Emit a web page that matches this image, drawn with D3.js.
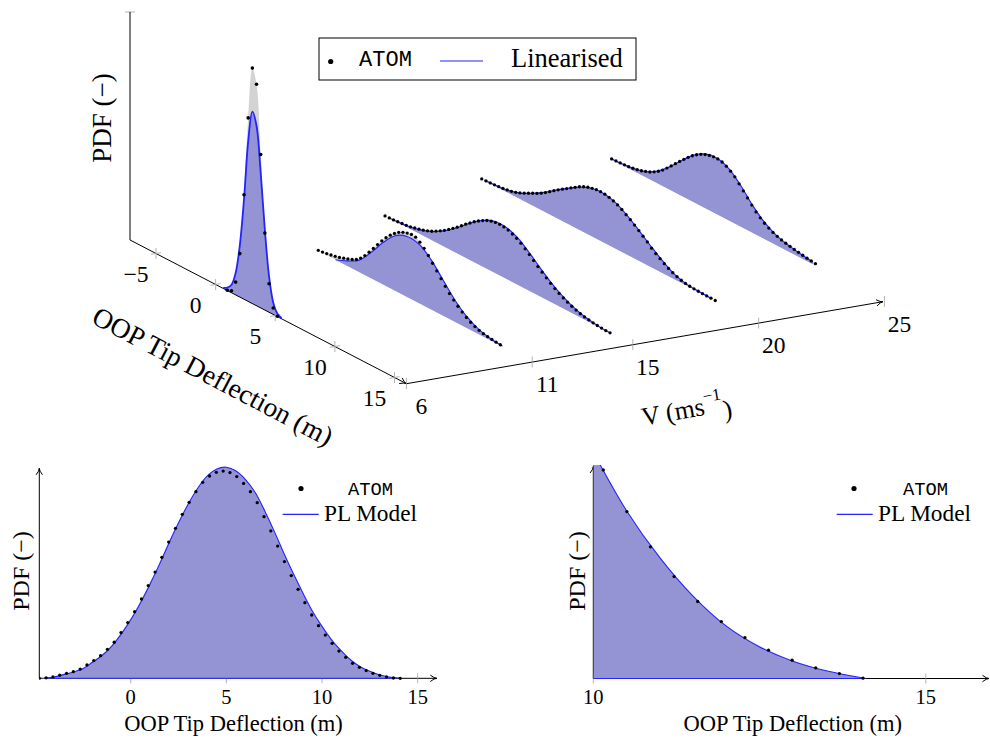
<!DOCTYPE html>
<html>
<head>
<meta charset="utf-8">
<script src="https://cdn.jsdelivr.net/npm/d3@7"></script>
<style>
  body { margin: 0; background: #fff; }
  text { font-family: "Liberation Serif", "DejaVu Serif", serif; fill: #000; }
  .mono { font-family: "Liberation Mono", "DejaVu Sans Mono", monospace; }
</style>
</head>
<body>
<script>
// ---- data ----------------------------------------------------------------
var speeds = [6, 11, 15, 20, 25];
var speedTicks = [6, 11, 15, 20, 25];
var defTicks3d = [-5, 0, 5, 10, 15];
var defTicksLeft = [0, 5, 10, 15];
var defTicksRight = [10, 15];

// ATOM pdf samples, one list per wind speed, on an even deflection grid
var atomStart = [0.98, -1.94, -4.78, -7.22, -6.87];
var atomStep = [0.35, 0.355, 0.356, 0.356, 0.356];
var atomV6 = [0.0008, 0.0053, 0.0337, 0.1145, 0.2750, 0.4829, 0.6197, 0.5829, 0.4039, 0.2026, 0.0750, 0.0171, 0.0008];
var atomV11 = [0.0013, 0.0026, 0.0042, 0.0063, 0.0087, 0.0116, 0.0153, 0.0192, 0.0237, 0.0295,
    0.0389, 0.0513, 0.0658, 0.0816, 0.0974, 0.1132, 0.1271, 0.1395, 0.1500, 0.1587,
    0.1645, 0.1684, 0.1705, 0.1692, 0.1618, 0.1513, 0.1382, 0.1237, 0.1092, 0.0947,
    0.0803, 0.0671, 0.0558, 0.0453, 0.0358, 0.0274, 0.0205, 0.0150, 0.0108, 0.0079,
    0.0058, 0.0042, 0.0029, 0.0018];
var atomV15 = [0, 0.0003, 0.0009, 0.0020, 0.0032, 0.0043, 0.0060, 0.0087, 0.0115, 0.0147,
    0.0188, 0.0234, 0.0297, 0.0362, 0.0433, 0.0515, 0.0602, 0.0690, 0.0786, 0.0885,
    0.0974, 0.1065, 0.1143, 0.1212, 0.1273, 0.1314, 0.1338, 0.1346, 0.1336, 0.1310,
    0.1266, 0.1212, 0.1141, 0.1050, 0.0957, 0.0859, 0.0758, 0.0667, 0.0578, 0.0491,
    0.0411, 0.0342, 0.0281, 0.0227, 0.0177, 0.0136, 0.0097, 0.0071, 0.0050, 0.0032,
    0.0019, 0.0009, 0.0002, 0];
var atomV20 = [0.0005, 0.0011, 0.0016, 0.0024, 0.0032, 0.0045, 0.0063, 0.0084, 0.0116, 0.0158,
    0.0211, 0.0266, 0.0324, 0.0379, 0.0442, 0.0516, 0.0597, 0.0682, 0.0763, 0.0839,
    0.0913, 0.0987, 0.1061, 0.1134, 0.1192, 0.1237, 0.1268, 0.1289, 0.1295, 0.1287,
    0.1263, 0.1226, 0.1179, 0.1116, 0.1039, 0.0966, 0.0882, 0.0795, 0.0705, 0.0613,
    0.0505, 0.0421, 0.0345, 0.0271, 0.0205, 0.0150, 0.0103, 0.0068, 0.0042, 0.0026,
    0.0016, 0.0011, 0.0005, 0.0003, 0.0003, 0];
var atomV25 = [0.0018, 0.0024, 0.0029, 0.0037, 0.0047, 0.0063, 0.0084, 0.0113, 0.0153, 0.0197,
    0.0258, 0.0332, 0.0421, 0.0532, 0.0647, 0.0763, 0.0882, 0.0995, 0.1105, 0.1205,
    0.1289, 0.1358, 0.1411, 0.1447, 0.1468, 0.1471, 0.1447, 0.1395, 0.1321, 0.1232,
    0.1105, 0.0976, 0.0850, 0.0721, 0.0597, 0.0500, 0.0416, 0.0347, 0.0292, 0.0247,
    0.0211, 0.0182, 0.0158, 0.0134, 0.0116, 0.0097, 0.0079, 0.0063, 0.0050];
var atomPdf = [atomV6, atomV11, atomV15, atomV20, atomV25];

// Linearised pdf, coarser grid
var linStart = [0.63, -0.5, -4.5, -7, -7];
var linStep = [0.35, 1, 0.5, 1, 1];
var linV6 = [0.0013, 0.0079, 0.0211, 0.0579, 0.1368, 0.2632, 0.4211, 0.5053, 0.4737, 0.3553, 0.2105, 0.0947, 0.0316, 0.0079, 0.0013];
var linV11 = [0, 0.0132, 0.0316, 0.0684, 0.1105, 0.1447, 0.1592, 0.1553, 0.1316, 0.0947, 0.0579, 0.0303, 0.0132, 0.0047, 0.0013];
var linV15 = [0.0002, 0.0008, 0.0024, 0.0041, 0.0062, 0.0104, 0.0148, 0.0208, 0.0287, 0.0380,
    0.0488, 0.0610, 0.0740, 0.0879, 0.1010, 0.1131, 0.1234, 0.1315, 0.1360, 0.1371,
    0.1346, 0.1291, 0.1208, 0.1089, 0.0956, 0.0814, 0.0680, 0.0554, 0.0436, 0.0337,
    0.0250, 0.0179, 0.0119, 0.0075, 0.0046, 0.0023, 0.0008, 0.0001];
var linV20 = [0.0008, 0.0026, 0.0066, 0.0158, 0.0316, 0.0500, 0.0724, 0.0934, 0.1132, 0.1263,
    0.1289, 0.1211, 0.1026, 0.0789, 0.0539, 0.0311, 0.0126, 0.0039, 0.0011, 0];
var linV25 = [0.0013, 0.0032, 0.0068, 0.0153, 0.0329, 0.0605, 0.0934, 0.1237, 0.1434, 0.1474,
    0.1355, 0.1066, 0.0705, 0.0426, 0.0250, 0.0163, 0.0100, 0.0058];
var linPdf = [linV6, linV11, linV15, linV20, linV25];

// tail case (bottom right)
var tailAtomStart = 10.15, tailAtomStep = 0.355;
var tailAtom = [0.1355, 0.1084, 0.0855, 0.0662, 0.0500, 0.0370, 0.0266, 0.0184, 0.0119, 0.0069, 0.0032, 0.0002];
var tailLinDef = [10, 10.5, 11, 11.5, 12, 12.5, 13, 13.5, 14.1];
var tailLinPdf = [0.147, 0.109, 0.0785, 0.0535, 0.034, 0.0205, 0.0112, 0.005, 0];

// ---- styles -------------------------------------------------------------
var grey_fill = "#d3d3d3",
    lin_fill = "#9494d4",
    lin_line = "#2323ff",
    tick_col = "#a0a0a0";

var svg = d3.select("body").append("svg")
    .attr("width", 990)
    .attr("height", 740)
    .style("background", "#fff");

function arrowHead(g, x1, y1, x2, y2) {
    var a = Math.atan2(y2 - y1, x2 - x1),
        c = Math.cos(a), s = Math.sin(a);
    var b1 = [x2 - 6.5 * c - 3.2 * s, y2 - 6.5 * s + 3.2 * c],
        b2 = [x2 - 6.5 * c + 3.2 * s, y2 - 6.5 * s - 3.2 * c],
        m = [x2 - 2.5 * c, y2 - 2.5 * s];
    g.append("path")
        .attr("d", "M" + b1 + "Q" + m + " " + x2 + "," + y2 + "Q" + m + " " + b2)
        .attr("fill", "none").attr("stroke", "#000").attr("stroke-width", 1);
}
function axisLine(g, x1, y1, x2, y2, arrow) {
    g.append("line").attr("x1", x1).attr("y1", y1).attr("x2", x2).attr("y2", y2)
        .attr("stroke", "#000").attr("stroke-width", 1);
    if (arrow) arrowHead(g, x1, y1, x2, y2);
}

// ---- 3D waterfall -------------------------------------------------------
var defX = d3.scaleLinear().domain([-5, 15]).range([156.0, 394.5]),
    defY = d3.scaleLinear().domain([-5, 15]).range([253.5, 377.5]),
    spdX = d3.scaleLinear().domain([6, 25]).range([0, 478]),
    spdY = d3.scaleLinear().domain([6, 25]).range([0, -82.3]),
    pdfZ = d3.scaleLinear().domain([0, 0.6]).range([0, 228]);
var defMin = -7.18, defMax = 16;

function proj(d, v, z) {
    return [defX(d) + spdX(v), defY(d) + spdY(v) - pdfZ(z)];
}
function seriesPts(start, step, pdf, v) {
    return pdf.map(function(p, i) { return proj(start + i * step, v, p); });
}
var curve3 = d3.line().curve(d3.curveCatmullRom.alpha(0.5));
function fillPath(start, step, pdf, v) {
    var s = proj(start, v, 0),
        e = proj(start + (pdf.length - 1) * step, v, 0);
    return curve3(seriesPts(start, step, pdf, v)) + "L" + e + "L" + s + "Z";
}

var g3 = svg.append("g").attr("class", "waterfall");
var order = [4, 3, 2, 1, 0];

order.forEach(function(k) {
    g3.append("path")
        .attr("d", fillPath(atomStart[k], atomStep[k], atomPdf[k], speeds[k]))
        .attr("fill", grey_fill);
    g3.append("path")
        .attr("d", fillPath(linStart[k], linStep[k], linPdf[k], speeds[k]))
        .attr("fill", lin_fill);
});

// axes
var corner = proj(defMin, 6, 0),
    defEnd = proj(defMax, 6, 0),
    spdEnd = proj(defMax, 25, 0),
    zTop = proj(defMin, 6, 0.6);
g3.append("line").attr("x1", zTop[0] - 5).attr("x2", zTop[0] + 5)
    .attr("y1", zTop[1]).attr("y2", zTop[1])
    .attr("stroke", tick_col).attr("stroke-width", 0.8);
axisLine(g3, corner[0], corner[1], zTop[0], zTop[1], false);
axisLine(g3, corner[0], corner[1], defEnd[0], defEnd[1], true);
axisLine(g3, defEnd[0], defEnd[1], spdEnd[0] - 1.5, spdEnd[1] + 0.3, true);

defTicks3d.forEach(function(t) {
    var p = proj(t, 6, 0),
        q1 = proj(t, 5.8, 0), q2 = proj(t, 6.2, 0);
    g3.append("line").attr("x1", p[0]).attr("x2", p[0]).attr("y1", p[1] - 5.5).attr("y2", p[1] + 5.5)
        .attr("stroke", tick_col).attr("stroke-width", 0.8);
    g3.append("line").attr("x1", q1[0]).attr("x2", q2[0]).attr("y1", q1[1]).attr("y2", q2[1])
        .attr("stroke", tick_col).attr("stroke-width", 0.8);
    g3.append("text")
        .attr("x", p[0] - 20).attr("y", p[1] + 20).attr("dy", "0.35em")
        .attr("font-size", "23.5px").style("text-anchor", "middle")
        .text(t < 0 ? "\u2212" + Math.abs(t) : t);
});
speedTicks.forEach(function(t) {
    var p = proj(defMax, t, 0);
    g3.append("line").attr("x1", p[0]).attr("x2", p[0]).attr("y1", p[1] - 5.5).attr("y2", p[1] + 5.5)
        .attr("stroke", tick_col).attr("stroke-width", 0.8);
    g3.append("text")
        .attr("x", p[0] + 15).attr("y", p[1] + 22).attr("dy", "0.35em")
        .attr("font-size", "23.5px").style("text-anchor", "middle")
        .text(t);
});

order.forEach(function(k) {
    g3.append("path")
        .attr("d", curve3(seriesPts(linStart[k], linStep[k], linPdf[k], speeds[k])))
        .attr("fill", "none").attr("stroke", lin_line).attr("stroke-width", k === 0 ? 1.8 : 1.2);
    g3.selectAll(".dot" + k)
        .data(seriesPts(atomStart[k], atomStep[k], atomPdf[k], speeds[k]))
        .enter().append("circle")
        .attr("cx", function(d) { return d[0]; })
        .attr("cy", function(d) { return d[1]; })
        .attr("r", k === 0 ? 1.8 : 1.65)
        .attr("fill", "#000");
});

// axis titles 3D
g3.append("text")
    .attr("transform", "translate(102,118) rotate(-90)")
    .attr("dy", "0.35em").attr("font-size", "27px").style("text-anchor", "middle")
    .text("PDF (\u2212)");
g3.append("text")
    .attr("transform", "translate(213,376) rotate(27.7)")
    .attr("dy", "0.35em").attr("font-size", "27.5px").style("text-anchor", "middle")
    .text("OOP Tip Deflection (m)");
var vLab = g3.append("text")
    .attr("transform", "translate(686,409) rotate(-9.8)")
    .attr("dy", "0.35em").attr("font-size", "26px").style("text-anchor", "middle");
vLab.append("tspan").text("V (ms");
vLab.append("tspan").attr("dy", "-0.75em").attr("font-size", "17px").text("\u22121");
vLab.append("tspan").attr("dy", "0.75em").text(")");

// legend 3D
var leg = g3.append("g");
leg.append("rect").attr("x", 319).attr("y", 38).attr("width", 317).attr("height", 42)
    .attr("fill", "#fff").attr("stroke", "#000").attr("stroke-width", 1);
leg.append("circle").attr("cx", 330.7).attr("cy", 61.5).attr("r", 2.6).attr("fill", "#000");
leg.append("text").attr("class", "mono").attr("x", 385.5).attr("y", 66)
    .attr("font-size", "22px").style("text-anchor", "middle").text("ATOM");
leg.append("line").attr("x1", 440).attr("x2", 483).attr("y1", 61).attr("y2", 61)
    .attr("stroke", lin_line).attr("stroke-width", 1.2);
leg.append("text").attr("x", 511).attr("y", 66.5).attr("font-size", "26.5px").text("Linearised");

// ---- 2D panels -----------------------------------------------------------
function panel(opts) {
    var g = svg.append("g");
    var x = opts.x, y = opts.y;
    var atomPts = opts.atom.map(function(p, i) { return [opts.atomStart + i * opts.atomStep, p]; });
    var linPts = opts.lin.map(function(p, i) { return [opts.linDef[i], p]; });
    var clipId = opts.id + "-clip";
    g.append("clipPath").attr("id", clipId).append("rect")
        .attr("x", x.range()[0]).attr("y", y.range()[1] - opts.clipPad)
        .attr("width", x.range()[1] - x.range()[0])
        .attr("height", y.range()[0] - y.range()[1] + opts.clipPad + 3);

    var area = d3.area()
        .x(function(d) { return x(d[0]); })
        .y0(y(0))
        .y1(function(d) { return y(d[1]); })
        .curve(d3.curveCatmullRom.alpha(0.5));

    // axes
    axisLine(g, x.range()[0], y(0), x.range()[1], y(0), true);
    axisLine(g, x.range()[0], y(0), x.range()[0], y.range()[1], true);
    opts.ticks.forEach(function(t) {
        g.append("line").attr("x1", x(t)).attr("x2", x(t)).attr("y1", y(0) - 5).attr("y2", y(0) + 5)
            .attr("stroke", tick_col).attr("stroke-width", 0.8);
        g.append("text").attr("x", x(t)).attr("y", 703.5).attr("font-size", "20.5px")
            .style("text-anchor", "middle").text(t);
    });

    var plot = g.append("g").attr("clip-path", "url(#" + clipId + ")");
    plot.append("path").datum(atomPts).attr("d", area).attr("fill", grey_fill);
    plot.append("path").datum(linPts).attr("d", area).attr("fill", lin_fill)
        .attr("stroke", lin_line).attr("stroke-width", 1.1);
    plot.selectAll("circle").data(atomPts).enter().append("circle")
        .attr("cx", function(d) { return x(d[0]); })
        .attr("cy", function(d) { return y(d[1]); })
        .attr("r", 1.65).attr("fill", "#000");

    g.append("text").attr("x", opts.labelX).attr("y", 731).attr("font-size", "22.5px")
        .style("text-anchor", "middle").text("OOP Tip Deflection (m)");
    g.append("text")
        .attr("transform", "translate(" + opts.pdfX + ",571) rotate(-90)")
        .attr("font-size", "24px").style("text-anchor", "middle").text("PDF (\u2212)");

    var lg = opts.legend;
    g.append("circle").attr("cx", lg[0]).attr("cy", 488.5).attr("r", 2.6).attr("fill", "#000");
    g.append("text").attr("class", "mono").attr("x", lg[1]).attr("y", 494.5)
        .attr("font-size", "18.75px").style("text-anchor", "middle").text("ATOM");
    g.append("line").attr("x1", lg[2]).attr("x2", lg[2] + 36).attr("y1", 514.3).attr("y2", 514.3)
        .attr("stroke", lin_line).attr("stroke-width", 1.2);
    g.append("text").attr("x", lg[3]).attr("y", 521).attr("font-size", "23.3px").text("PL Model");
}

var linDef15 = linV15.map(function(p, i) { return linStart[2] + i * linStep[2]; });

panel({
    id: "left",
    x: d3.scaleLinear().domain([-4.78, 16]).range([39.3, 436.8]),
    y: d3.scaleLinear().domain([0, 0.1364]).range([678.3, 468.3]),
    atom: atomV15, atomStart: atomStart[2], atomStep: atomStep[2],
    lin: linV15, linDef: linDef15,
    ticks: defTicksLeft,
    labelX: 233.5, pdfX: 28.5, clipPad: 6,
    legend: [301, 370.5, 282.7, 324]
});
panel({
    id: "right",
    x: d3.scaleLinear().domain([10, 15.95]).range([593.3, 989]),
    y: d3.scaleLinear().domain([0, 0.1377]).range([678.5, 466.5]),
    atom: tailAtom, atomStart: tailAtomStart, atomStep: tailAtomStep,
    lin: tailLinPdf, linDef: tailLinDef,
    ticks: defTicksRight,
    labelX: 792.7, pdfX: 585, clipPad: 1.5,
    legend: [854, 925.5, 836.7, 878]
});
</script>
</body>
</html>
